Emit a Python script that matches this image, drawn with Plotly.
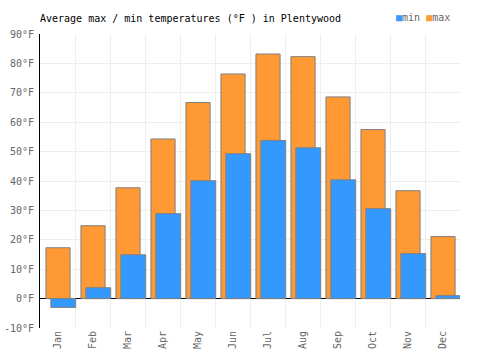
import plotly.graph_objects as go

months = ["Jan", "Feb", "Mar", "Apr", "May", "Jun", "Jul", "Aug", "Sep", "Oct", "Nov", "Dec"]
min_temps = [-3.0, 3.7, 14.9, 28.9, 40.1, 49.3, 53.8, 51.3, 40.4, 30.6, 15.3, 1.0]
max_temps = [17.3, 24.8, 37.7, 54.3, 66.7, 76.4, 83.2, 82.3, 68.6, 57.5, 36.7, 21.1]
y_ticks = [-10, 0, 10, 20, 30, 40, 50, 60, 70, 80, 90]
y_labels = [f"{v}°F" for v in y_ticks]

font_main = "DejaVu Sans Mono"
blue = "#3399ff"
orange = "#ff9933"

fig = go.Figure()
fig.add_trace(go.Bar(
    x=months, y=max_temps, name="max",
    marker=dict(color=orange, line=dict(color="#808080", width=1)),
    offset=-0.33, width=0.69, showlegend=False,
))
fig.add_trace(go.Bar(
    x=months, y=min_temps, name="min",
    marker=dict(color=blue, line=dict(color="#808080", width=1)),
    offset=-0.19, width=0.71, showlegend=False,
))

fig.add_annotation(
    xref="paper", yref="paper", x=1.0 - 8/420, y=1 + 16/294, xanchor="right", yanchor="middle",
    showarrow=False,
    text=f'<span style="color:{blue}">■</span>min <span style="color:{orange}">■</span>max',
    font=dict(family=font_main, size=10, color="#666666"),
)

fig.update_layout(
    width=500, height=350,
    margin=dict(l=40, r=40, t=34, b=22, autoexpand=False),
    paper_bgcolor="white", plot_bgcolor="white",
    barmode="overlay",
    font=dict(family=font_main, size=10, color="#666666"),
    title=dict(text="Average max / min temperatures (°F ) in Plentywood",
               x=40/500, xanchor="left", y=1-18/350, yanchor="middle",
               font=dict(family=font_main, size=10, color="#000000")),
    showlegend=False,
    xaxis=dict(
        type="category", tickson="boundaries", showgrid=True, gridcolor="#eeeeee",
        tickangle=-90, ticks="", showline=False, zeroline=False, automargin=False,
        tickfont=dict(family=font_main, size=10, color="#666666"),
        range=[-0.5, 11.5],
    ),
    yaxis=dict(
        range=[-10, 90], tickvals=y_ticks, ticktext=y_labels, automargin=False,
        showgrid=True, gridcolor="#eeeeee", zeroline=True, zerolinecolor="#000000",
        zerolinewidth=1, showline=True, linecolor="#000000", linewidth=1,
        ticks="outside", ticklen=3, tickcolor="rgba(0,0,0,0)",
        tickfont=dict(family=font_main, size=10, color="#666666"),
    ),
)

fig.write_html("out.html")
